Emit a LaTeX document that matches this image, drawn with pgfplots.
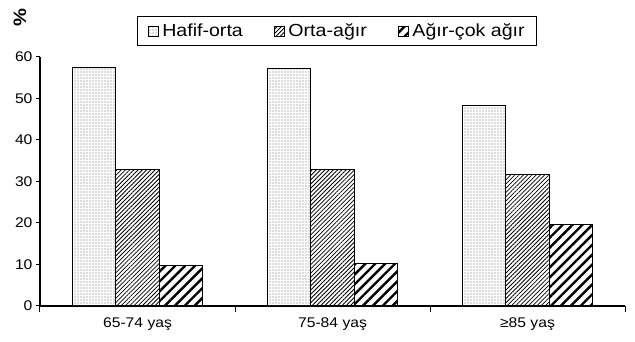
\documentclass[border=0pt]{standalone}
\usepackage{fontspec}
\setmainfont{Liberation Sans}[FakeStretch=1.12]
\usepackage{pgfplots}
\pgfplotsset{compat=1.18}
\usetikzlibrary{patterns.meta}
\begin{document}
\begin{tikzpicture}
\path[use as bounding box] (-40pt,-36pt) rectangle (595pt,306pt);
\begin{axis}[
  at={(0pt,0pt)}, anchor=south west,
  scale only axis, width=585pt, height=249pt,
  xmin=-0.5, xmax=2.5, ymin=0, ymax=60,
  ybar=0pt, bar width=0.223,
  axis x line*=bottom, axis y line*=left,
  axis line style={line width=1.2pt, -},
  xtick={0,1,2},
  xticklabels={65-74 yaş, 75-84 yaş, ≥85 yaş},
  xtick style={draw=none},
  extra x ticks={-0.5,0.5,1.5,2.5},
  extra x tick labels={},
  extra x tick style={xtick style={draw=black, line width=1pt}, major tick length=6pt, tick align=outside},
  ytick={0,10,...,60},
  ytick style={draw=black, line width=1pt},
  tick align=outside, major tick length=4pt,
  tick label style={font=\fontsize{14}{16}\selectfont},
  xticklabel style={yshift=-4pt},
  /pgf/number format/assume math mode=true,
  legend columns=3,
  legend style={at={(axis description cs:0.508,1.104)}, anchor=center,
    draw=black, line width=1pt, font=\fontsize{17.5}{19}\selectfont,
    inner xsep=10pt, inner ysep=5pt,
    /tikz/every odd column/.append style={column sep=2pt},
    /tikz/every even column/.append style={column sep=29pt}},
  legend image code/.code={\draw[#1, line width=0.6pt] (0pt,-5pt) rectangle (10pt,5pt);},
]
\addplot[draw=black, line width=0.8pt, pattern={Dots[radius=0.55pt,distance=3pt]}, pattern color=black!60]
  coordinates {(0,57.6) (1,57.3) (2,48.4)};
\addplot[draw=black, line width=0.8pt, pattern={Lines[angle=45,distance=3pt,line width=0.8pt]}, pattern color=black]
  coordinates {(0,32.9) (1,32.8) (2,31.7)};
\addplot[draw=black, line width=0.8pt, pattern={Lines[angle=45,distance=7pt,line width=2.4pt]}, pattern color=black]
  coordinates {(0,9.7) (1,10.2) (2,19.6)};
\legend{Hafif-orta, Orta-ağır, Ağır-çok ağır}
\end{axis}
\node[rotate=90, font=\bfseries\fontsize{18}{20}\selectfont] at (-20pt,288pt) {\%};
\end{tikzpicture}
\end{document}
